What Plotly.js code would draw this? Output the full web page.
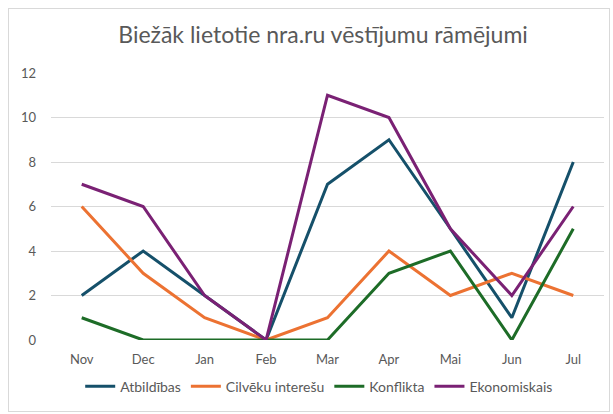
<!DOCTYPE html>
<html><head><meta charset="utf-8">
<script src="https://cdn.plot.ly/plotly-3.0.1.min.js"></script>
<style>html,body{margin:0;padding:0;background:#fff}#frame{position:absolute;left:8px;top:8px;width:600px;height:402px;border:1px solid #d9d9d9;pointer-events:none}</style>
</head><body>
<div id="chart" style="width:613px;height:414px"></div>
<div id="frame"></div>
<script>
const months = ["Nov","Dec","Jan","Feb","Mar","Apr","Mai","Jun","Jul"];
const atbildibas = [2,4,2,0,7,9,5,1,8];
const cilveku = [6,3,1,0,1,4,2,3,2];
const konflikta = [1,0,0,0,0,3,4,0,5];
const ekonomiskais = [7,6,2,0,11,10,5,2,6];
const names = ["Atbildības","Cilvēku interešu","Konflikta","Ekonomiskais"];
const colors = ["#15506a","#ec7232","#1d6c27","#7a2174"];
const series = [atbildibas,cilveku,konflikta,ekonomiskais];
const font = "Lato, 'Open Sans', sans-serif";
const traces = series.map((s,i)=>({x:months,y:s,name:names[i],type:"scatter",mode:"lines",line:{color:colors[i],width:3},hoverinfo:"skip"}));
Plotly.newPlot("chart",traces,{
  width:613,height:414,
  margin:{l:51,r:9,t:73,b:74},
  paper_bgcolor:"#fff",plot_bgcolor:"#fff",
  title:{text:"Biežāk lietotie nra.ru vēstījumu rāmējumi",font:{family:font,size:23,color:"#595959"},x:0.527,xanchor:"center",y:0.915,yanchor:"middle"},
  xaxis:{type:"category",range:[-0.5,8.5],showgrid:false,zeroline:false,showline:false,ticks:"",tickfont:{family:font,size:13,color:"#595959"},ticklabelstandoff:10,fixedrange:true},
  yaxis:{range:[0,12],dtick:2,showgrid:true,gridcolor:"#d9d9d9",gridwidth:1,zeroline:false,showline:false,ticks:"",tickfont:{family:font,size:13,color:"#595959"},ticklabelstandoff:14,fixedrange:true},
  legend:{orientation:"h",x:0.485,xanchor:"center",y:-0.175,yanchor:"middle",font:{family:font,size:14,color:"#595959"},itemwidth:30,tracegroupgap:0},
  showlegend:true
},{displayModeBar:false,staticPlot:true});
</script>
</body></html>
